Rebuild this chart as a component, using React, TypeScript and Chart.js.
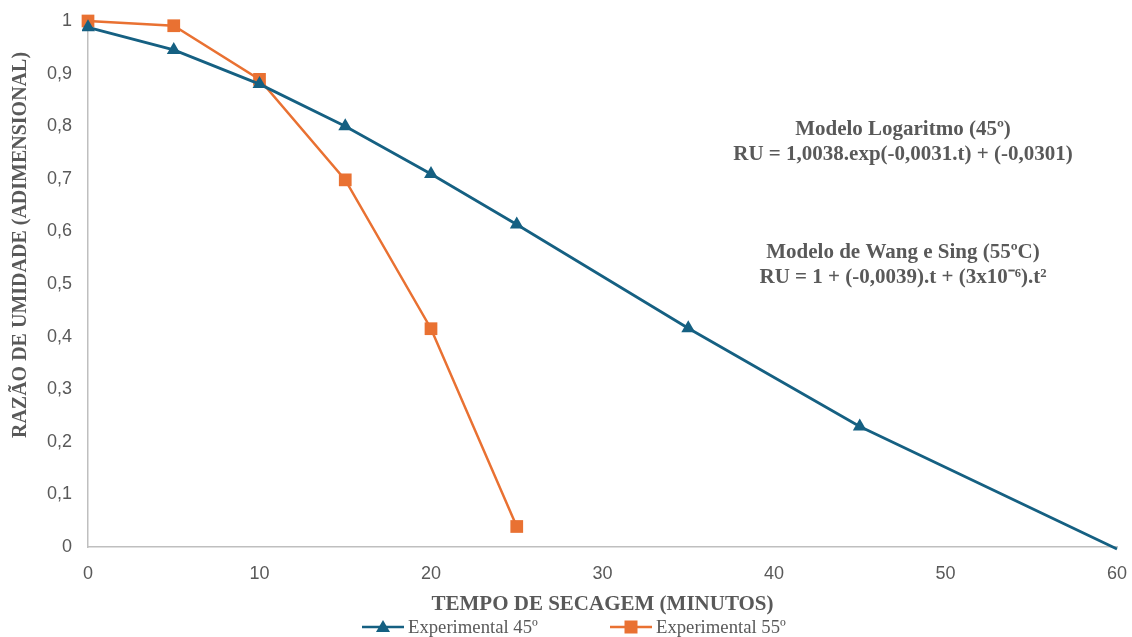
import React, { useEffect, useRef } from "react";
import { Chart, registerables } from "chart.js";

Chart.register(...registerables);

const timeLabels45 = [0, 5, 10, 15, 20, 25, 35, 45, 60];
const values45 = [0.988, 0.945, 0.88, 0.8, 0.709, 0.613, 0.416, 0.229, -0.004];
const timeLabels55 = [0, 5, 10, 15, 20, 25];
const values55 = [1.0, 0.991, 0.889, 0.698, 0.415, 0.039];
const xTicks = [0, 10, 20, 30, 40, 50, 60];
const seriesNames = ["Experimental 45º", "Experimental 55º"];
const xTitle = "TEMPO DE SECAGEM (MINUTOS)";
const yTitle = "RAZÃO DE UMIDADE (ADIMENSIONAL)";
const modelTexts = [
  ["Modelo Logaritmo (45º)", "RU = 1,0038.exp(-0,0031.t) + (-0,0301)"],
  ["Modelo de Wang e Sing (55ºC)", "RU = 1 + (-0,0039).t + (3x10⁻⁶).t²"],
];

const BLUE = "#156082";
const ORANGE = "#E97132";
const TEXT = "#595959";
const SERIF = "'Liberation Serif', 'Times New Roman', serif";
const SANS = "'Liberation Sans', Arial, sans-serif";

const overlayPlugin = {
  id: "overlay",
  afterDraw(chart: any) {
    const { ctx, chartArea } = chart;
    ctx.save();
    ctx.fillStyle = TEXT;
    ctx.textAlign = "center";
    ctx.textBaseline = "middle";
    // model annotations
    ctx.font = `bold 21px ${SERIF}`;
    ctx.fillText(modelTexts[0][0], 903, 130);
    ctx.fillText(modelTexts[0][1], 903, 155);
    ctx.fillText(modelTexts[1][0], 903, 253);
    ctx.fillText(modelTexts[1][1], 903, 278);
    // axis titles
    ctx.font = `bold 21px ${SERIF}`;
    ctx.fillText(xTitle, (chartArea.left + chartArea.right) / 2, 605);
    ctx.save();
    ctx.translate(21, 245);
    ctx.rotate(-Math.PI / 2);
    ctx.font = `bold 20px ${SERIF}`;
    ctx.fillText(yTitle, 0, 0);
    ctx.restore();
    // legend
    const items = [
      { x: 362, color: BLUE, style: "triangle", name: seriesNames[0] },
      { x: 610, color: ORANGE, style: "rect", name: seriesNames[1] },
    ];
    const ly = 627;
    ctx.font = `18.7px ${SERIF}`;
    ctx.textAlign = "left";
    for (const it of items) {
      ctx.strokeStyle = it.color;
      ctx.lineWidth = 2.5;
      ctx.beginPath();
      ctx.moveTo(it.x, ly);
      ctx.lineTo(it.x + 42, ly);
      ctx.stroke();
      ctx.fillStyle = it.color;
      const cx = it.x + 21;
      if (it.style === "triangle") {
        ctx.beginPath();
        ctx.moveTo(cx, ly - 7);
        ctx.lineTo(cx + 7, ly + 5);
        ctx.lineTo(cx - 7, ly + 5);
        ctx.closePath();
        ctx.fill();
      } else {
        ctx.fillRect(cx - 6.5, ly - 6.5, 13, 13);
      }
      ctx.fillStyle = TEXT;
      ctx.fillText(it.name, it.x + 46, ly + 1);
    }
    ctx.restore();
  },
};

export default function App() {
  const ref = useRef<HTMLCanvasElement>(null);
  useEffect(() => {
    document.body.style.margin = "0";
    const canvas = ref.current!;
    const chart = new Chart(canvas, {
      type: "line",
      data: {
        datasets: [
          {
            label: seriesNames[0],
            data: timeLabels45.map((t, i) => ({ x: t, y: values45[i] })),
            borderColor: BLUE,
            backgroundColor: BLUE,
            borderWidth: 2.8,
            pointStyle: "triangle",
            pointRadius: (c: any) => (c.dataIndex === timeLabels45.length - 1 ? 0 : 8),
            pointBorderWidth: 0,
            clip: 6,
          },
          {
            label: seriesNames[1],
            data: timeLabels55.map((t, i) => ({ x: t, y: values55[i] })),
            borderColor: ORANGE,
            backgroundColor: ORANGE,
            borderWidth: 2.5,
            pointStyle: "rect",
            pointRadius: 9,
            pointBorderWidth: 0,
            clip: 10,
          },
        ],
      },
      options: {
        animation: false,
        responsive: false,
        layout: { padding: 0 },
        plugins: { legend: { display: false }, tooltip: { enabled: false } },
        scales: {
          x: {
            type: "linear",
            min: 0,
            max: 60,
            afterBuildTicks: (s: any) => {
              s.ticks = xTicks.map((v) => ({ value: v }));
            },
            afterFit: (s: any) => {
              s.height = 90;
              s.paddingRight = 15;
              s.paddingLeft = 0;
            },
            grid: { display: false, drawTicks: false },
            border: { display: true, color: "#BFBFBF", width: 1.5 },
            ticks: {
              color: TEXT,
              font: { family: SANS, size: 18 },
              padding: 16,
              maxRotation: 0,
            },
          },
          y: {
            type: "linear",
            min: 0,
            max: 1,
            afterFit: (s: any) => {
              s.width = 88;
              s.paddingTop = 21;
              s.paddingBottom = 0;
            },
            grid: { display: false, drawTicks: false },
            border: { display: true, color: "#BFBFBF", width: 1.5 },
            ticks: {
              stepSize: 0.1,
              color: TEXT,
              font: { family: SANS, size: 18 },
              padding: 16,
              callback: (v: any) => {
                const n = Math.round(Number(v) * 10) / 10;
                return String(n).replace(".", ",");
              },
            },
          },
        },
      },
      plugins: [overlayPlugin],
    } as any);
    return () => chart.destroy();
  }, []);
  return (
    <div style={{ width: 1132, height: 637, background: "#fff" }}>
      <canvas ref={ref} width={1132} height={637} />
    </div>
  );
}
